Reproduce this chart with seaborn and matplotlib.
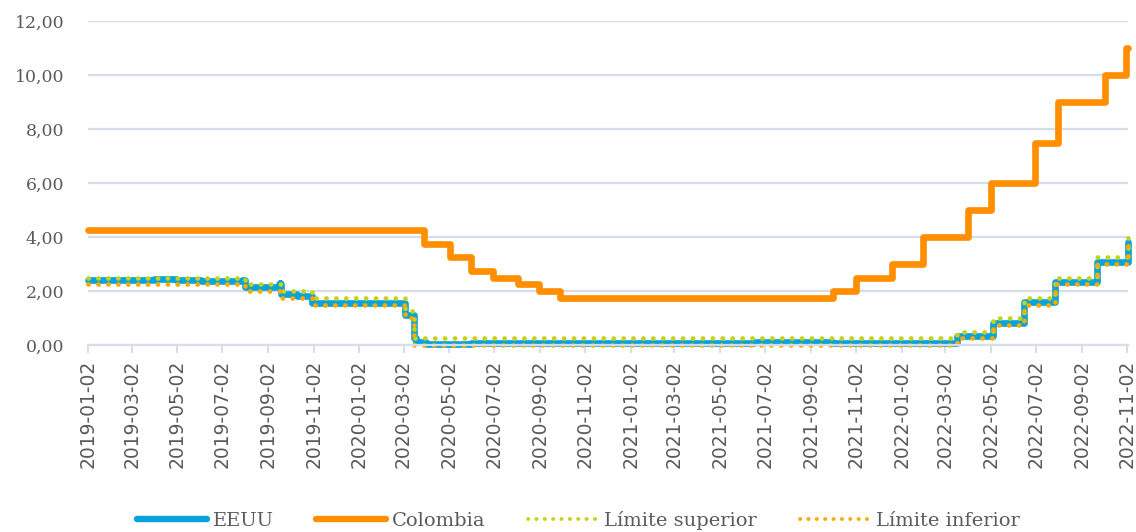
import matplotlib
matplotlib.use("Agg")
import pandas as pd
import seaborn as sns
import matplotlib.pyplot as plt
from matplotlib.lines import Line2D
from matplotlib.ticker import FuncFormatter

# --- Tasas de política (cambios de nivel; cada valor rige hasta el siguiente) ---
fechas_col = ["2019-01-02", "2020-03-30", "2020-05-04", "2020-06-01", "2020-07-01",
              "2020-08-03", "2020-09-01", "2020-09-29", "2021-10-01", "2021-11-02",
              "2021-12-20", "2022-01-31", "2022-04-01", "2022-05-02", "2022-07-01",
              "2022-08-01", "2022-10-03", "2022-10-31", "2022-11-03"]
tasa_col = [4.25, 3.75, 3.25, 2.75, 2.50,
            2.25, 2.00, 1.75, 2.00, 2.50,
            3.00, 4.00, 5.00, 6.00, 7.50,
            9.00, 10.00, 11.00, 11.00]

fechas_eeuu = ["2019-01-02", "2019-04-01", "2019-05-01", "2019-06-03", "2019-07-29",
               "2019-08-01", "2019-09-16", "2019-09-17", "2019-09-18", "2019-09-19",
               "2019-10-11", "2019-10-31", "2020-03-04", "2020-03-16", "2020-03-19",
               "2020-04-01", "2020-06-01", "2021-02-01", "2021-06-17", "2021-10-01",
               "2022-03-17", "2022-05-05", "2022-06-16", "2022-07-28", "2022-09-22",
               "2022-11-03"]
tasa_eeuu = [2.40, 2.44, 2.39, 2.37, 2.40,
             2.13, 2.25, 2.30, 2.25, 1.90,
             1.82, 1.56, 1.10, 0.25, 0.10,
             0.05, 0.08, 0.07, 0.10, 0.08,
             0.33, 0.83, 1.58, 2.33, 3.08,
             3.83]

fechas_rango = ["2019-01-02", "2019-08-01", "2019-09-19", "2019-10-31", "2020-03-04",
                "2020-03-16", "2022-03-17", "2022-05-05", "2022-06-16", "2022-07-28",
                "2022-09-22", "2022-11-03"]
limite_sup = [2.50, 2.25, 2.00, 1.75, 1.25, 0.25, 0.50, 1.00, 1.75, 2.50, 3.25, 4.00]
limite_inf = [2.25, 2.00, 1.75, 1.50, 1.00, 0.00, 0.25, 0.75, 1.50, 2.25, 3.00, 3.75]

etiquetas_x = ["2019-01-02", "2019-03-02", "2019-05-02", "2019-07-02", "2019-09-02",
               "2019-11-02", "2020-01-02", "2020-03-02", "2020-05-02", "2020-07-02",
               "2020-09-02", "2020-11-02", "2021-01-02", "2021-03-02", "2021-05-02",
               "2021-07-02", "2021-09-02", "2021-11-02", "2022-01-02", "2022-03-02",
               "2022-05-02", "2022-07-02", "2022-09-02", "2022-11-02"]
valores_y = [0, 2, 4, 6, 8, 10, 12]

nombres = ["EEUU", "Colombia", "Límite superior", "Límite inferior"]

AZUL = "#07a3da"
NARANJA = "#ff8e00"
VERDE = "#c4d21c"
AMARILLO = "#fbab00"
GRILLA = "#d7dde8"
TEXTO = "#5a5a5a"

sns.set_theme(style="white")
plt.rcParams["font.family"] = ["DejaVu Sans"]

df_col = pd.DataFrame({"fecha": pd.to_datetime(fechas_col), "tasa": tasa_col})
df_eeuu = pd.DataFrame({"fecha": pd.to_datetime(fechas_eeuu), "tasa": tasa_eeuu})
df_rango = pd.DataFrame({"fecha": pd.to_datetime(fechas_rango),
                         "sup": limite_sup, "inf": limite_inf})

fig = plt.figure(figsize=(11.36, 5.32), dpi=100)
ax = fig.add_axes([0.0775, 0.3515, 0.9155, 0.609])

puntos = dict(linestyle=(0, (0.05, 2.05)), dash_capstyle="round", lw=3.4)

sns.lineplot(data=df_eeuu, x="fecha", y="tasa", ax=ax, color=AZUL, lw=4.8,
             drawstyle="steps-post", errorbar=None, legend=False)
sns.lineplot(data=df_col, x="fecha", y="tasa", ax=ax, color=NARANJA, lw=4.8,
             drawstyle="steps-post", errorbar=None, legend=False)
sns.lineplot(data=df_rango, x="fecha", y="sup", ax=ax, color=VERDE,
             drawstyle="steps-post", errorbar=None, legend=False, **puntos)
sns.lineplot(data=df_rango, x="fecha", y="inf", ax=ax, color=AMARILLO,
             drawstyle="steps-post", errorbar=None, legend=False, **puntos)
for ln in ax.lines:
    ln.set_clip_on(False)
    ln.set_solid_joinstyle("round")
    ln.set_solid_capstyle("round")

ax.set_xlim(pd.Timestamp("2019-01-02"), pd.Timestamp("2022-11-03"))
ax.set_ylim(0, 12)
ax.set_yticks(valores_y)
ax.yaxis.set_major_formatter(FuncFormatter(lambda v, _: f"{v:.2f}".replace(".", ",")))
ax.set_xticks(pd.to_datetime(etiquetas_x))
ax.set_xticklabels(etiquetas_x, rotation=90)
ax.set_xlabel("")
ax.set_ylabel("")

ax.grid(False)
ax.yaxis.grid(True, color=GRILLA, lw=1.6)
ax.set_axisbelow(True)
for s in ["top", "right", "left"]:
    ax.spines[s].set_visible(False)
ax.spines["bottom"].set_color(GRILLA)
ax.spines["bottom"].set_linewidth(1.6)

ax.tick_params(axis="x", bottom=True, direction="out", length=5.5, width=1.4,
               color=GRILLA, pad=5, labelsize=13.5, labelcolor=TEXTO)
ax.tick_params(axis="y", left=False, length=0, pad=17, labelsize=12.5, labelcolor=TEXTO)
for t in ax.get_yticklabels():
    t.set_family("DejaVu Serif")

handles = [
    Line2D([], [], color=AZUL, lw=4.6, solid_capstyle="round"),
    Line2D([], [], color=NARANJA, lw=4.6, solid_capstyle="round"),
    Line2D([], [], color=VERDE, lw=2.8, linestyle=(0, (0.05, 2.1)), dash_capstyle="round"),
    Line2D([], [], color=AMARILLO, lw=2.8, linestyle=(0, (0.05, 2.1)), dash_capstyle="round"),
]
leg = fig.legend(handles, nombres, loc="center", bbox_to_anchor=(578 / 1136, 0.022),
                 ncol=4, frameon=False, handlelength=3.6, handletextpad=0.3,
                 columnspacing=2.2, prop={"family": "DejaVu Serif", "size": 14})
for t in leg.get_texts():
    t.set_color(TEXTO)

fig.savefig("out.png", dpi=100)
